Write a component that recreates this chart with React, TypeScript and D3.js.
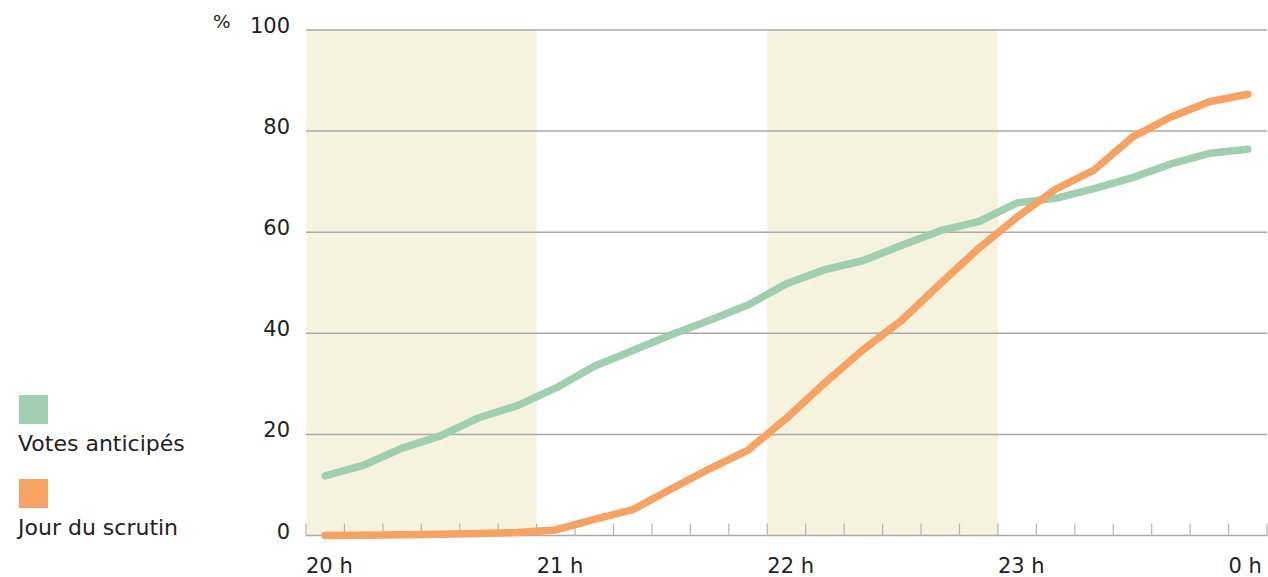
import React, { useEffect, useRef } from 'react';
import * as d3 from 'd3';

// minutes after 20 h
const minutes = [5, 15, 25, 35, 45, 55, 65, 75, 85, 95, 105, 115, 125, 135, 145, 155, 165, 175, 185, 195, 205, 215, 225, 235, 245];

const anticipes = [11.8, 13.9, 17.3, 19.7, 23.3, 25.7, 29.2, 33.5, 36.6, 39.7, 42.6, 45.6, 49.8, 52.6, 54.4, 57.4, 60.3, 62.1, 65.8, 66.7, 68.6, 70.8, 73.5, 75.6, 76.4];
const scrutin = [0, 0.05, 0.15, 0.25, 0.4, 0.6, 1.1, 3.2, 5.1, 9.2, 13.2, 16.9, 23.2, 30.2, 36.8, 42.6, 49.8, 56.8, 63.0, 68.5, 72.3, 78.8, 82.8, 85.8, 87.3];

const yTicks = [0, 20, 40, 60, 80, 100];
const hourTicks = [0, 60, 120, 180, 240];
const hourLabels = ['20 h', '21 h', '22 h', '23 h', '0 h'];
const bands = [[0, 60], [120, 180]];

const seriesNames = ['Votes anticipés', 'Jour du scrutin'];
const colors = ['#9fcfae', '#f5a262'];

const W = 1268;
const H = 577;

const App: React.FC = () => {
  const ref = useRef<SVGSVGElement>(null);

  useEffect(() => {
    if (!ref.current) return;
    const svg = d3.select(ref.current);
    svg.selectAll('*').remove();

    const font = '"DejaVu Sans", sans-serif';
    const x = d3.scaleLinear().domain([0, 250]).range([306, 1267]);
    const y = d3.scaleLinear().domain([0, 100]).range([535.5, 30]);

    // shaded hours
    svg.append('g')
      .selectAll('rect')
      .data(bands)
      .join('rect')
      .attr('x', d => x(d[0]))
      .attr('width', d => x(d[1]) - x(d[0]))
      .attr('y', y(100))
      .attr('height', y(0) - y(100))
      .attr('fill', '#f5f2dd');

    // gridlines
    svg.append('g')
      .selectAll('line')
      .data(yTicks)
      .join('line')
      .attr('x1', x(0))
      .attr('x2', x(250))
      .attr('y1', d => y(d))
      .attr('y2', d => y(d))
      .attr('stroke', '#a9a9a9')
      .attr('stroke-width', 1.5);

    // minor ticks every 10 min
    svg.append('g')
      .selectAll('line')
      .data(d3.range(0, 251, 10))
      .join('line')
      .attr('x1', d => x(d))
      .attr('x2', d => x(d))
      .attr('y1', y(0))
      .attr('y2', y(0) - 12)
      .attr('stroke', '#b5b5b5')
      .attr('stroke-width', 1.2);

    // y labels
    svg.append('g')
      .selectAll('text')
      .data(yTicks)
      .join('text')
      .attr('x', 290)
      .attr('y', d => y(d) + 3)
      .attr('text-anchor', 'end')
      .attr('font-family', font)
      .attr('font-size', 21)
      .attr('fill', '#222')
      .text(d => String(d));

    svg.append('text')
      .attr('x', 213)
      .attr('y', 28)
      .attr('font-family', font)
      .attr('font-size', 18.5)
      .attr('fill', '#222')
      .text('%');

    // x labels
    svg.append('g')
      .selectAll('text')
      .data(hourTicks)
      .join('text')
      .attr('x', d => x(d))
      .attr('y', 573)
      .attr('font-family', font)
      .attr('font-size', 21)
      .attr('fill', '#222')
      .text((d, i) => hourLabels[i]);

    const line = d3.line<number>()
      .x((d, i) => x(minutes[i]))
      .y(d => y(d));

    [anticipes, scrutin].forEach((s, i) => {
      svg.append('path')
        .datum(s)
        .attr('fill', 'none')
        .attr('stroke', colors[i])
        .attr('stroke-width', 7.5)
        .attr('stroke-linejoin', 'round')
        .attr('stroke-linecap', 'round')
        .attr('d', line);
    });

    // legend
    const leg = svg.append('g');
    seriesNames.forEach((name, i) => {
      leg.append('rect')
        .attr('x', 19)
        .attr('y', 395 + i * 84)
        .attr('width', 29)
        .attr('height', 29)
        .attr('fill', colors[i]);
      leg.append('text')
        .attr('x', 18)
        .attr('y', 451 + i * 84)
        .attr('font-family', font)
        .attr('font-size', 22)
        .attr('fill', '#222')
        .text(name);
    });
  }, []);

  return (
    <svg ref={ref} width={W} height={H} style={{ position: 'absolute', left: 0, top: 0 }}></svg>
  );
};

export default App;
